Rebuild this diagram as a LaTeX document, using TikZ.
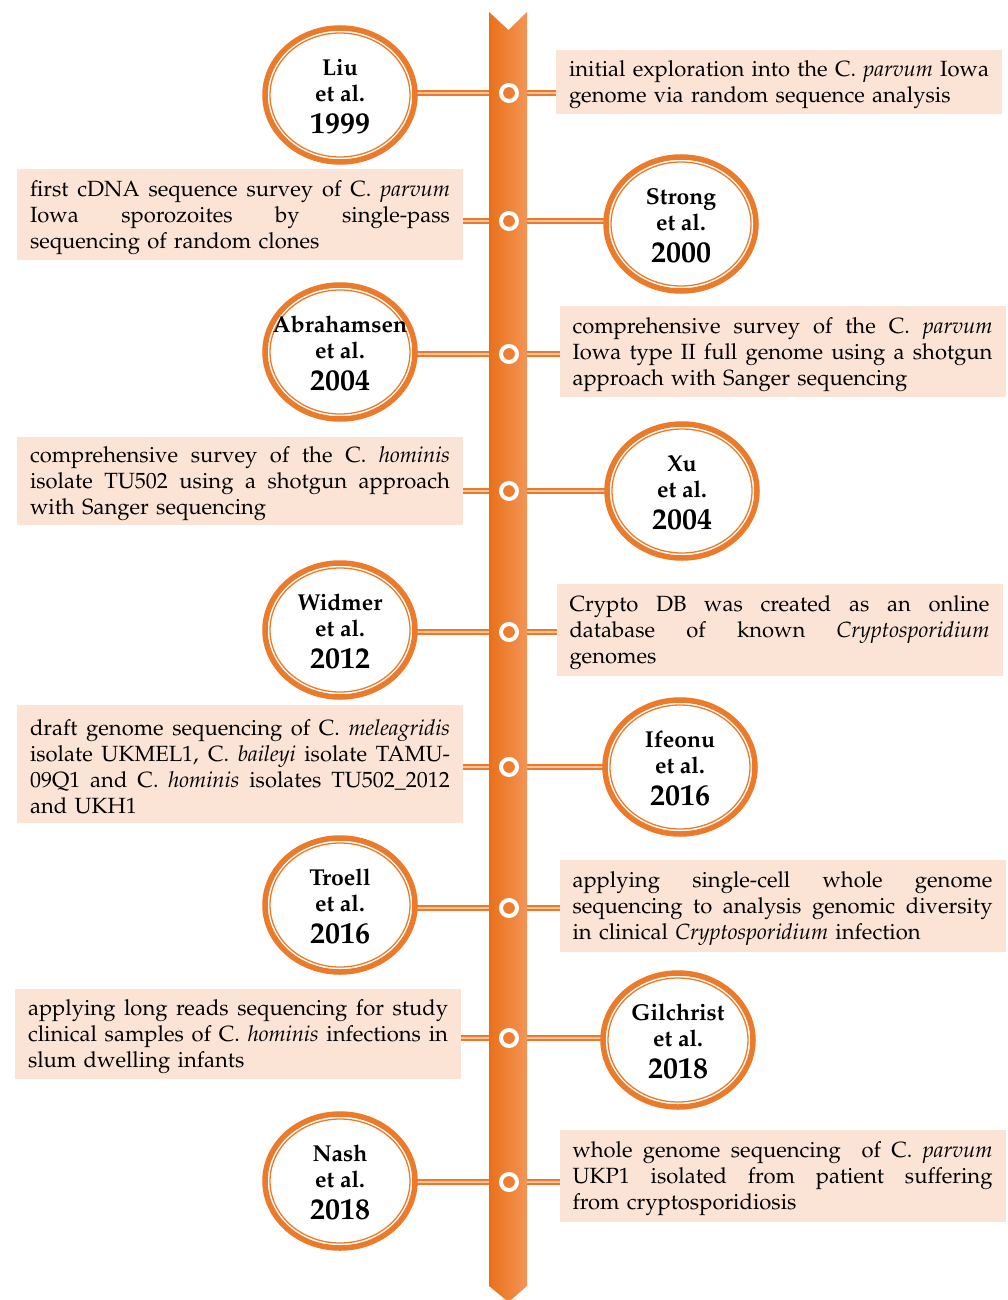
\documentclass[tikz,border=0pt]{standalone}
\usepackage[T1]{fontenc}
\usepackage{mathpazo}
\usetikzlibrary{shapes.geometric}
\definecolor{ringorange}{HTML}{EC7A2B}
\definecolor{barL}{HTML}{E9701A}
\definecolor{barR}{HTML}{F39556}
\definecolor{dotorange}{HTML}{EE7D30}
\definecolor{boxfill}{HTML}{FBE4D5}
\definecolor{connlight}{HTML}{F8C39C}
\setlength{\parindent}{0pt}
\newcommand{\jl}[1]{\leavevmode\hbox to 420pt{\spaceskip=0pt\xspaceskip=0pt #1}\\}
\newcommand{\st}{\leavevmode\rule{0pt}{22pt}}
\newcommand{\spc}[1]{\textit{#1}}
\pgfdeclarelayer{background}
\pgfsetlayers{background,main}
\begin{document}
\begin{tikzpicture}[x=1pt,y=-1pt,
  conn/.style={draw=ringorange, line width=2.8, double=connlight, double distance=1.2},
  yrell/.style={ellipse, draw=ringorange, line width=5.5, fill=white, minimum width=150, minimum height=134, inner sep=0},
  yrtext/.style={align=center, font=\fontsize{23}{26}\selectfont\bfseries, inner sep=0},
  dotnode/.style={circle, draw=white, line width=4, fill=dotorange, minimum size=16, inner sep=0},
  descbox/.style={fill=boxfill, inner xsep=13, inner ysep=2, text width=420, align=left, font=\fontsize{22}{26}\selectfont},
]
\useasboundingbox (0,0) rectangle (1007,1300);

% positions on the bar
\coordinate (c1) at (509,93);
\coordinate (c2) at (509,221);
\coordinate (c3) at (509,354);
\coordinate (c4) at (509,491);
\coordinate (c5) at (509,632);
\coordinate (c6) at (509,767);
\coordinate (c7) at (509,908);
\coordinate (c8) at (509,1038);
\coordinate (c9) at (509,1182);

% description boxes
\node[descbox, minimum height=64] (b1) at (779,82) {%
\st\jl{initial exploration into the C. \spc{parvum} Iowa}genome via random sequence analysis};
\node[descbox, minimum height=91] (b2) at (240,214.5) {%
\st\jl{first cDNA sequence survey of C. \spc{parvum}}\jl{Iowa sporozoites by single-pass}sequencing of random clones};
\node[descbox, minimum height=91] (b3) at (782.5,351.5) {%
\st\jl{comprehensive survey of the C. \spc{parvum}}\jl{Iowa type II full genome using a shotgun}approach with Sanger sequencing};
\node[descbox, minimum height=88] (b4) at (240,481) {%
\st\jl{comprehensive survey of the C. \spc{hominis}}\jl{isolate TU502 using a shotgun approach}with Sanger sequencing};
\node[descbox, minimum height=92] (b5) at (779.5,630) {%
\st\jl{Crypto DB was created as an online}\jl{database of known \spc{Cryptosporidium}}genomes};
\node[descbox, minimum height=118] (b6) at (240,764) {%
\st\jl{draft genome sequencing of C. \spc{meleagridis}}\jl{isolate UKMEL1, C. \spc{baileyi} isolate TAMU-}\jl{09Q1 and C. \spc{hominis} isolates TU502\_2012}and UKH1};
\node[descbox, minimum height=92] (b7) at (782.5,906) {%
\st\jl{applying single-cell whole genome}\jl{sequencing to analysis genomic diversity}in clinical \spc{Cryptosporidium} infection};
\node[descbox, minimum height=90] (b8) at (238,1034) {%
\st\jl{applying long reads sequencing for study}\jl{clinical samples of C. \spc{hominis} infections in}slum dwelling infants};
\node[descbox, minimum height=92] (b9) at (782.5,1176) {%
\st\jl{whole genome sequencing\ \ of C. \spc{parvum}}\jl{UKP1 isolated from patient suffering}from cryptosporidiosis};

% year ellipses
\node[yrell] (e1) at (340,95) {};
\node[yrell] (e2) at (681,224) {};
\node[yrell] (e3) at (340,352) {};
\node[yrell] (e4) at (682,491) {};
\node[yrell] (e5) at (340,630) {};
\node[yrell] (e6) at (680,767) {};
\node[yrell] (e7) at (340,905) {};
\node[yrell] (e8) at (678,1040) {};
\node[yrell] (e9) at (340,1181) {};
\foreach \i in {1,...,9}{
  \draw[ringorange, line width=1.3] (e\i.center) ellipse [x radius=70, y radius=62];
}

% white page and connectors, under everything
\begin{pgfonlayer}{background}
\fill[white] (0,0) rectangle (1007,1300);
\foreach \i in {1,...,9}{
  \draw[conn] (e\i.center |- c\i) -- (b\i.center |- c\i);
}
\end{pgfonlayer}

% the timeline bar
\shade[left color=barL, right color=barR]
  (489,12) -- (508.5,30) -- (527,12) -- (527,1286) -- (508.5,1302) -- (489,1286) -- cycle;

\foreach \i in {1,...,9}{
  \node[dotnode] (d\i) at (c\i) {};
}

% year texts
\node[yrtext] (t1) at ([yshift=-1.5]e1.center) {Liu\\et al.\\[6pt]{\fontsize{30}{30}\selectfont 1999}};
\node[yrtext] (t2) at ([yshift=-1.5]e2.center) {Strong\\et al.\\[6pt]{\fontsize{30}{30}\selectfont 2000}};
\node[yrtext] (t3) at ([yshift=-1.5]e3.center) {Abrahamsen\\et al.\\[6pt]{\fontsize{30}{30}\selectfont 2004}};
\node[yrtext] (t4) at ([yshift=-1.5]e4.center) {Xu\\et al.\\[6pt]{\fontsize{30}{30}\selectfont 2004}};
\node[yrtext] (t5) at ([yshift=-1.5]e5.center) {Widmer\\et al.\\[6pt]{\fontsize{30}{30}\selectfont 2012}};
\node[yrtext] (t6) at ([yshift=-1.5]e6.center) {Ifeonu\\et al.\\[6pt]{\fontsize{30}{30}\selectfont 2016}};
\node[yrtext] (t7) at ([yshift=-1.5]e7.center) {Troell\\et al.\\[6pt]{\fontsize{30}{30}\selectfont 2016}};
\node[yrtext] (t8) at ([yshift=-1.5]e8.center) {Gilchrist\\et al.\\[6pt]{\fontsize{30}{30}\selectfont 2018}};
\node[yrtext] (t9) at ([yshift=-1.5]e9.center) {Nash\\et al.\\[6pt]{\fontsize{30}{30}\selectfont 2018}};
\end{tikzpicture}
\end{document}
